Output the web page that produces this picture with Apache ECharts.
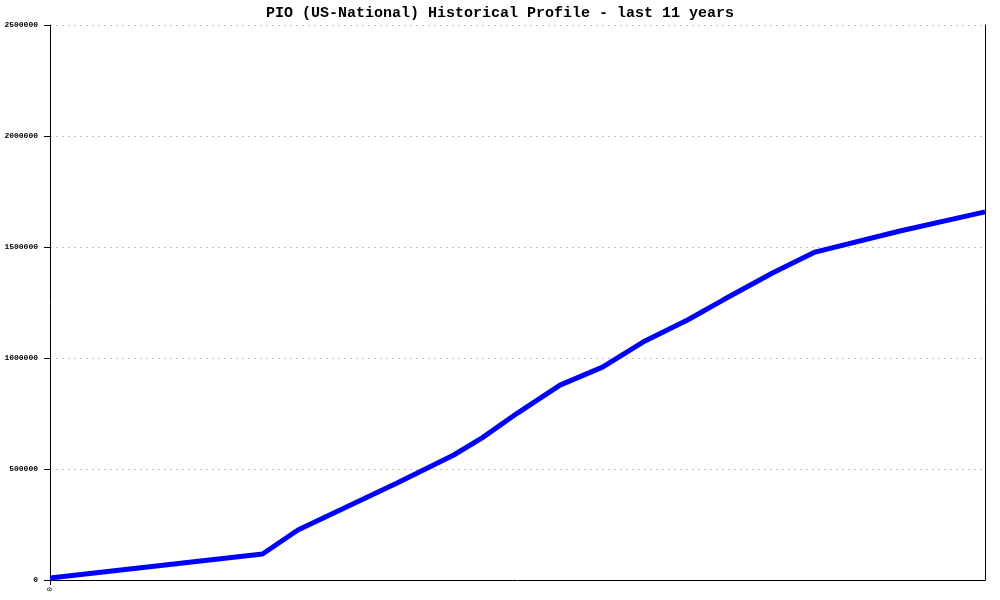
<!DOCTYPE html>
<html>
<head>
<meta charset="utf-8">
<script src="https://cdn.jsdelivr.net/npm/echarts@6/dist/echarts.min.js"></script>
<style>html,body{margin:0;padding:0;background:#fff}#c{width:1000px;height:600px}</style>
</head>
<body>
<div id="c"></div>
<script>
var titleText = 'PIO (US-National) Historical Profile - last 11 years';
var months = [0, 30, 35, 49, 57, 61, 66, 72, 78, 84, 90, 95, 102, 108, 120, 132];
var values = [9000, 117000, 225000, 437000, 563000, 640000, 752000, 878000, 959000, 1077000, 1171000, 1261000, 1383000, 1477000, 1572000, 1658000];
var yTicks = [0, 500000, 1000000, 1500000, 2000000, 2500000];

var data = months.map(function (m, i) { return [m, values[i]]; });
var chart = echarts.init(document.getElementById('c'), null, {renderer: 'canvas'});
chart.setOption({
  animation: false,
  backgroundColor: '#ffffff',
  title: {
    text: titleText, left: 'center', top: 1,
    textStyle: {fontFamily: 'Liberation Mono', fontWeight: 'bold', fontSize: 15, color: '#000'}
  },
  grid: {left: 50, right: 15, top: 25, bottom: 20, containLabel: false},
  xAxis: {
    type: 'value', min: 0, max: 132, interval: 132,
    axisLine: {show: true, lineStyle: {color: '#000', width: 1}},
    axisTick: {show: true, length: 5, lineStyle: {color: '#000'}, customValues: [0]},
    axisLabel: {
      rotate: 90, margin: 7, fontFamily: 'Liberation Mono', fontSize: 8, color: '#000',
      customValues: [0],
      formatter: function (v) { return v === 0 ? '0' : ''; }
    },
    splitLine: {show: false}
  },
  yAxis: [{
    type: 'value', min: 0, max: 2500000, interval: 500000,
    axisLine: {show: true, lineStyle: {color: '#000', width: 1}},
    axisTick: {show: true, length: 6, lineStyle: {color: '#000'}},
    axisLabel: {
      margin: 12, fontFamily: 'Liberation Mono', fontWeight: 'bold', fontSize: 8, color: '#000',
      formatter: function (v) { return yTicks.indexOf(v) >= 0 ? String(v) : ''; }
    },
    splitLine: {show: true, lineStyle: {color: '#c0c0c0', width: 1, type: [2, 4]}}
  }, {
    type: 'value', min: 0, max: 2500000, interval: 500000, position: 'right',
    axisLine: {show: true, lineStyle: {color: '#000', width: 1}},
    axisTick: {show: false}, axisLabel: {show: false}, splitLine: {show: false}
  }],
  series: [{
    type: 'line', data: data, showSymbol: false, symbol: 'none',
    lineStyle: {color: '#0000ff', width: 5}, itemStyle: {color: '#0000ff'}
  }]
});
</script>
</body>
</html>
